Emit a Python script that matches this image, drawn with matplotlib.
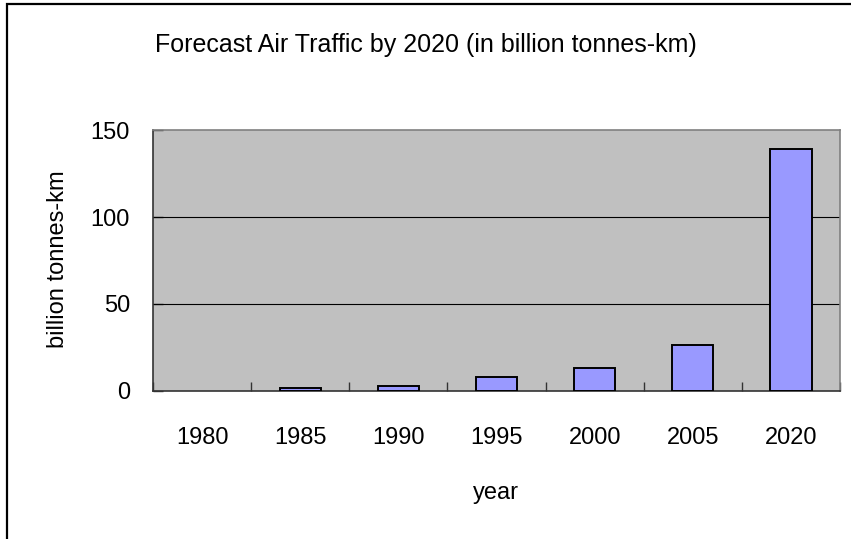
import matplotlib.pyplot as plt
from matplotlib.patches import Rectangle
import numpy as np

plt.rcParams['font.family'] = ['Liberation Sans', 'DejaVu Sans']

years = ["1980", "1985", "1990", "1995", "2000", "2005", "2020"]
traffic = [0, 1.2, 2.8, 7.5, 12.8, 26.5, 139.5]  # billion tonnes-km
y_ticks = [0, 50, 100, 150]

W, H = 851, 539
fig = plt.figure(figsize=(W / 100, H / 100), dpi=100)
ax = fig.add_axes([153 / W, 1 - 390.5 / H, 687 / W, 260.2 / H])

x = np.arange(len(years))
ax.set_facecolor('#c0c0c0')
# zero-height bars get no outline
edge_w = [1.4 if v > 0 else 0 for v in traffic]
ax.bar(x, traffic, width=0.42, color='#9999ff', edgecolor='black', linewidth=edge_w, zorder=3)

ax.set_xlim(-0.5, len(years) - 0.5)
ax.set_ylim(0, 150)

# category labels in the middle, tick marks on the boundaries
ax.set_xticks(x)
ax.set_xticklabels(years)
ax.set_xticks(np.arange(-0.5, len(years)), minor=True)
ax.tick_params(axis='x', which='major', length=0, pad=26, labelsize=17)
ax.tick_params(axis='x', which='minor', direction='in', length=6.5, width=1, color='#333333')

ax.set_yticks(y_ticks)
ax.tick_params(axis='y', direction='in', length=7, width=1, pad=16.5, labelsize=17, color='#333333')

for v in y_ticks[1:-1]:
    ax.axhline(v, color='black', linewidth=0.8, zorder=2)

ax.spines['top'].set_color('#808080')
ax.spines['right'].set_color('#808080')
ax.spines['left'].set_color('#333333')
ax.spines['bottom'].set_color('#333333')
for s in ax.spines.values():
    s.set_linewidth(1.2)

fig.text(426 / W, 1 - 45 / H, 'Forecast Air Traffic by 2020 (in billion tonnes-km)',
         ha='center', va='center', fontsize=18)
fig.text(496 / W, 1 - 493 / H, 'year', ha='center', va='center', fontsize=17)
fig.text(58 / W, 1 - 259 / H, 'billion tonnes-km', ha='center', va='center',
         rotation=90, fontsize=17)

# outer chart frame, running off the right and bottom edges
fig.add_artist(Rectangle((7 / W, -0.1), 1.2, 1.1 - 4 / H, transform=fig.transFigure,
                         fill=False, edgecolor='black', linewidth=1.6))

fig.savefig('out.png', dpi=100)
